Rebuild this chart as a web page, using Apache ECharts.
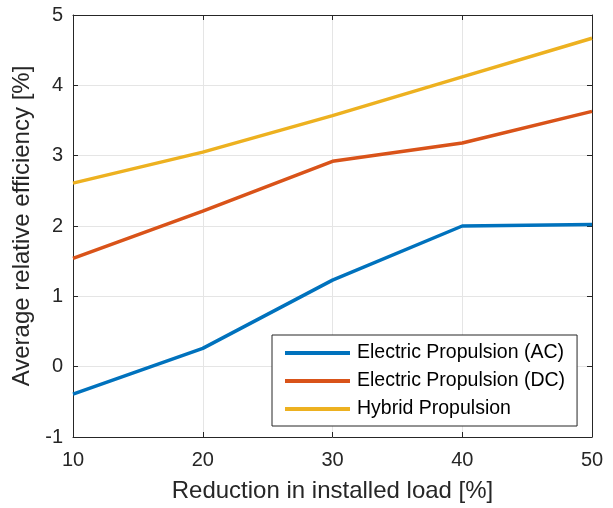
<!DOCTYPE html>
<html><head><meta charset="utf-8">
<script src="https://cdn.jsdelivr.net/npm/echarts@6/dist/echarts.min.js"></script>
<style>html,body{margin:0;padding:0;background:#fff}#c{width:613px;height:508px}</style>
</head><body><div id="c"></div>
<script>
const categories = [10, 20, 30, 40, 50];
const acValues = [-0.39, 0.26, 1.23, 2.0, 2.02];
const dcValues = [1.54, 2.21, 2.92, 3.18, 3.63];
const hybridValues = [2.61, 3.05, 3.57, 4.12, 4.67];
const seriesNames = ['Electric Propulsion (AC)', 'Electric Propulsion (DC)', 'Hybrid Propulsion'];
const colors = ['#0072BD', '#D95319', '#EDB120'];
const font = 'Liberation Sans, Helvetica, Arial, sans-serif';

const chart = echarts.init(document.getElementById('c'));
const pairs = v => categories.map((c, i) => [c, v[i]]);
const axisCommon = {
  axisLine: {show: true, onZero: false, lineStyle: {color: '#262626', width: 1}},
  axisTick: {show: true, inside: true, length: 5, lineStyle: {color: '#262626'}},
};
chart.setOption({
  animation: false,
  textStyle: {fontFamily: font},
  grid: {left: 73, right: 21, top: 15, bottom: 71},
  xAxis: [
    Object.assign({type: 'value', min: 10, max: 50, interval: 10,
      name: 'Reduction in installed load [%]', nameLocation: 'middle', nameGap: 42,
      nameTextStyle: {fontSize: 24, color: '#262626', fontFamily: font},
      axisLabel: {fontSize: 20, color: '#262626', margin: 13, fontFamily: font},
      splitLine: {show: true, lineStyle: {color: '#e5e5e5'}}}, axisCommon),
    Object.assign({type: 'value', min: 10, max: 50, interval: 10, position: 'top',
      axisLabel: {show: false}, splitLine: {show: false}}, axisCommon)
  ],
  yAxis: [
    Object.assign({type: 'value', min: -1, max: 5, interval: 1,
      name: 'Average relative efficiency [%]', nameLocation: 'middle', nameGap: 36,
      nameTextStyle: {fontSize: 24, color: '#262626', fontFamily: font},
      axisLabel: {fontSize: 20, color: '#262626', margin: 10, fontFamily: font},
      splitLine: {show: true, lineStyle: {color: '#e5e5e5'}}}, axisCommon),
    Object.assign({type: 'value', min: -1, max: 5, interval: 1, position: 'right',
      axisLabel: {show: false}, splitLine: {show: false}}, axisCommon)
  ],
  legend: {
    orient: 'vertical', left: 272, top: 335,
    data: seriesNames.map((n, i) => ({name: n, icon: 'rect', itemStyle: {color: colors[i]}})),
    itemWidth: 65, itemHeight: 4, itemGap: 8,
    padding: [8, 12, 7, 13],
    borderColor: '#262626', borderWidth: 1, backgroundColor: '#fff',
    textStyle: {fontSize: 19.5, color: '#000', fontFamily: font, padding: [0, 0, 0, 2]}
  },
  series: [acValues, dcValues, hybridValues].map((v, i) => ({
    name: seriesNames[i], type: 'line', data: pairs(v), showSymbol: false, symbol: 'none',
    lineStyle: {color: colors[i], width: 3.5}, itemStyle: {color: colors[i]}
  }))
});
</script></body></html>
